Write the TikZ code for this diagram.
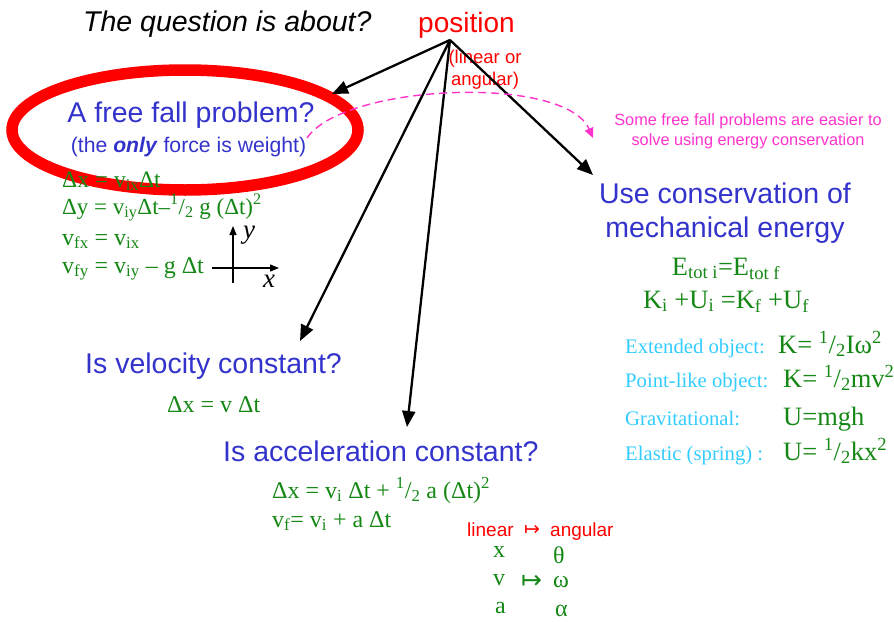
\documentclass[tikz,border=0pt]{standalone}
\usepackage{fontspec}
\setmainfont{Liberation Serif}
\setsansfont{Liberation Sans}
\newfontfamily\arrowfont{DejaVu Sans}
\usetikzlibrary{arrows.meta}
\definecolor{qblue}{RGB}{51,51,204}
\definecolor{qgreen}{RGB}{20,135,20}
\definecolor{qred}{RGB}{255,0,0}
\definecolor{qmag}{RGB}{255,51,204}
\definecolor{qcyan}{RGB}{51,204,255}
\newcommand{\qfs}[1]{\fontsize{#1}{#1}\selectfont}
\newcommand{\qhalf}{\textsuperscript{1}/\textsubscript{2}}
\tikzset{
  txt/.style={inner sep=0pt, anchor=base west},
  head/.style={txt, text=qblue, font=\sffamily\qfs{28.5}},
  eqf/.style={txt, text=qgreen, font=\qfs{24}},
  eqbig/.style={txt, text=qgreen, font=\qfs{26.5}},
  lab/.style={txt, text=qcyan, font=\qfs{20.7}},
  conn/.style={draw=black, line width=2.3pt, -{Triangle[length=16pt,width=13pt]}},
  axis/.style={draw=black, line width=1.2pt, -{Triangle[length=9pt,width=7pt]}},
}
\begin{document}
\begin{tikzpicture}[x=1pt,y=-1pt]
\useasboundingbox (0,0) rectangle (894,621);

% title
\node[txt, font=\sffamily\itshape\qfs{28.5}] (q) at (83,31) {The question is about?};
\node[txt, text=qred, font=\sffamily\qfs{28}] (pos) at (418,32) {position};
\node[inner sep=0pt, anchor=base, text=qred, font=\sffamily\qfs{18.5}] (lin1) at (485,63) {(linear or};
\node[inner sep=0pt, anchor=base, text=qred, font=\sffamily\qfs{18.5}] (lin2) at (485,85) {angular)};

% free fall
\node[head, anchor=base] (ff) at (191,122) {A free fall problem?};
\node[txt, anchor=base, text=qblue, font=\sffamily\qfs{21.2}] (ffs) at (188.5,152) {(the \textbf{\textit{only}} force is weight)};
\draw[qred, line width=11.5pt] (185,130) ellipse [x radius=173pt, y radius=60pt];

\node[eqf, font=\qfs{23.5}] (e1) at (62,187) {Δx = v\textsubscript{ix}Δt};
\node[eqf, font=\qfs{23}] (e2) at (62,214) {Δy = v\textsubscript{iy}Δt–\qhalf{} g (Δt)\textsuperscript{2}};
\node[eqf] (e3) at (62,245) {v\textsubscript{fx} = v\textsubscript{ix}};
\node[eqf] (e4) at (62,273) {v\textsubscript{fy} = v\textsubscript{iy} – g Δt};

% axes
\coordinate (ay0) at (233,283);
\coordinate (ay1) at (233,226);
\coordinate (ax0) at (212,268);
\coordinate (ax1) at (279,268);
\draw[axis] (ay0) -- (ay1);
\draw[axis] (ax0) -- (ax1);
\node[inner sep=0pt, font=\qfs{27}\itshape] (ylab) at (249,235) {y};
\node[inner sep=0pt, font=\qfs{27}\itshape] (xlab) at (269,281) {x};

% velocity / acceleration
\node[head] (vel) at (85,373) {Is velocity constant?};
\node[eqf] (ve) at (167,412) {Δx = v Δt};
\node[head] (acc) at (223,461) {Is acceleration constant?};
\node[eqf] (ae1) at (272,498) {Δx = v\textsubscript{i} Δt + \qhalf{} a (Δt)\textsuperscript{2}};
\node[eqf] (ae2) at (272,527) {v\textsubscript{f}= v\textsubscript{i} + a Δt};

% energy
\node[head, anchor=base] (en1) at (725,203.5) {Use conservation of};
\node[head, anchor=base] (en2) at (725,237.5) {mechanical energy};
\node[eqbig, anchor=base] (et) at (726,275) {E\textsubscript{tot i}=E\textsubscript{tot f}};
\node[eqbig, anchor=base] (ek) at (726,308) {K\textsubscript{i} +U\textsubscript{i} =K\textsubscript{f} +U\textsubscript{f}};

\node[lab] (l1) at (625,353) {Extended object:};
\node[lab] (l2) at (625,387) {Point-like object:};
\node[lab] (l3) at (625,425) {Gravitational:};
\node[lab] (l4) at (625,460) {Elastic (spring) :};
\node[eqbig] (f1) at (778,353) {K= \qhalf Iω\textsuperscript{2}};
\node[eqbig] (f2) at (783,387) {K= \qhalf mv\textsuperscript{2}};
\node[eqbig] (f3) at (783,425) {U=mgh};
\node[eqbig] (f4) at (783,460) {U= \qhalf kx\textsuperscript{2}};

% magenta note
\node[inner sep=0pt, anchor=base, text=qmag, font=\sffamily\qfs{16.3}] (n1) at (748,125) {Some free fall problems are easier to};
\node[inner sep=0pt, anchor=base, text=qmag, font=\sffamily\qfs{16.3}] (n2) at (748,145) {solve using energy conservation};

% linear -> angular
\node[txt, text=qred, font=\sffamily\qfs{19}] (lin) at (467,536) {linear};
\node[txt, text=qred, font=\arrowfont\qfs{19}] (ma1) at (524,535) {↦};
\node[txt, text=qred, font=\sffamily\qfs{19}] (ang) at (550,536) {angular};
\node[eqf] (gx) at (493,557) {x};
\node[eqf] (gth) at (553,563) {θ};
\node[eqf] (gv) at (493,585) {v};
\node[txt, text=qgreen, font=\arrowfont\qfs{25}] (ma2) at (521,588) {↦};
\node[eqf] (gom) at (553,587) {ω};
\node[eqf] (ga) at (495,613) {a};
\node[eqf] (gal) at (555,616) {α};

% connectors
\coordinate (hub) at (450,40);
\coordinate (tff) at (332,94);
\coordinate (tvel) at (300,341);
\coordinate (tacc) at (407,427);
\coordinate (ten) at (593,175);
\draw[conn] (hub) -- (tff);
\draw[conn] (hub) -- (tvel);
\draw[conn] (hub) -- (tacc);
\draw[conn] (hub) -- (ten);

\coordinate (ms) at (307,138);
\coordinate (me) at (593,138);
\draw[qmag, line width=1.4pt, dash pattern=on 8pt off 5pt, -{Triangle[length=10pt,width=9pt]}]
  (ms) .. controls (343,84) and (565,74) .. (me);
\end{tikzpicture}
\end{document}
